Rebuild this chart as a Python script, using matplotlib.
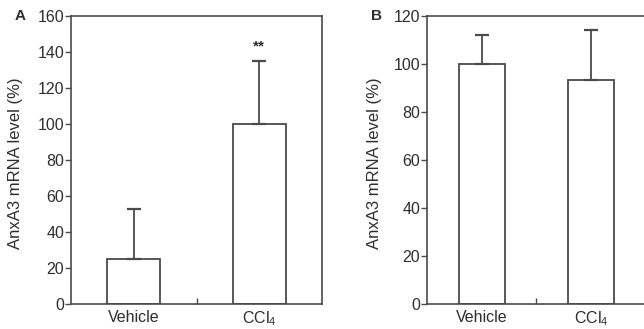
import numpy as np
import matplotlib.pyplot as plt

plt.rcParams['font.family'] = ['Liberation Sans', 'DejaVu Sans']
plt.rcParams['mathtext.default'] = 'regular'

# data
groups = ['Vehicle', 'CCl$_4$']
mean_a = [25, 100]
err_a = [28, 35]
mean_b = [100, 93.5]
err_b = [12, 20.5]

ink = '#4a4a4a'
txt = '#2e2e2e'

fig = plt.figure(figsize=(6.44, 3.29), dpi=100)
axA = fig.add_axes([71/644, 1-304/329, 251/644, 288/329])
axB = fig.add_axes([427/644, 1-304/329, 218.5/644, 288/329])

def panel(ax, means, errs, ymax, step, letter, lx, tx):
  x = np.arange(len(groups))
  ax.bar(x, means, width=0.42, color='white', edgecolor=ink, linewidth=1.3, zorder=2)
  ax.errorbar(x, means, yerr=[np.zeros(len(errs)), errs], fmt='none',
              ecolor=ink, elinewidth=1.3, capsize=5, capthick=1.6, zorder=3)
  ax.set_xlim(-0.5, 1.5)
  ax.set_ylim(0, ymax)
  ax.set_yticks(np.arange(0, ymax+1, step))
  ax.set_xticks(x)
  ax.set_xticklabels(groups)
  ax.set_xticks([0.5], minor=True)
  ax.tick_params(axis='x', which='major', length=0, pad=4, labelsize=11.5, labelcolor=txt)
  ax.tick_params(axis='x', which='minor', direction='in', length=4, color=ink, width=1)
  ax.tick_params(axis='y', direction='out', length=4, width=1, color=ink, pad=1,
                 labelsize=11.5, labelcolor=txt)
  for s in ax.spines.values():
    s.set_color(ink)
    s.set_linewidth(1.2)
  ax.set_ylabel('AnxA3 mRNA level (%)', fontsize=12, color=txt, va='center')
  ax.yaxis.set_label_coords(lx, 0.49)
  ax.text(tx, 1.0, letter, transform=ax.transAxes, fontsize=11, fontweight='bold',
          color=txt, ha='center', va='center')

panel(axA, mean_a, err_a, 160, 20, 'A', -0.223, -0.203)
panel(axB, mean_b, err_b, 120, 20, 'B', -0.238, -0.229)

# significance mark over CCl4 in panel A
axA.text(1, mean_a[1] + err_a[1] + 4, '**', ha='center', va='bottom', fontsize=11,
         color=txt, fontweight='bold')

fig.savefig('out.png', dpi=100)
